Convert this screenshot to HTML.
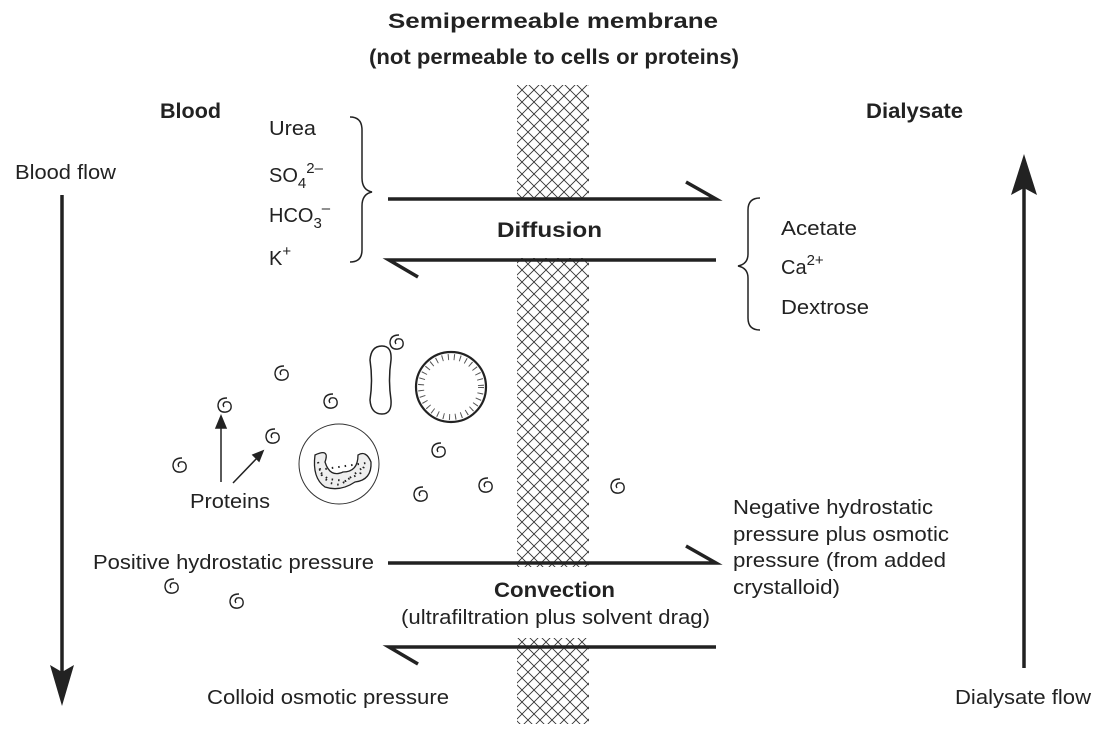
<!DOCTYPE html>
<html><head><meta charset="utf-8"><style>
html,body{margin:0;padding:0;background:#fff}
svg{display:block;font-family:"Liberation Sans",Arial,sans-serif;fill:#222}
text{font-size:20px;fill:#222}
.b{font-weight:bold;font-size:21px}
</style></head><body>
<svg width="1118" height="738" viewBox="0 0 1118 738" xmlns="http://www.w3.org/2000/svg">
<defs>
<pattern id="hatch" patternUnits="userSpaceOnUse" width="12" height="12">
<path d="M0,0 L12,12 M12,0 L0,12" stroke="#333" stroke-width="0.9" fill="none"/>
</pattern>
<path id="sp" d="M2,-7 Q-7,-7 -7,1 Q-6,8 1,7 Q7,6 6,0 Q5,-4 0,-3 Q-3,-1 -1,2" fill="none" stroke="#222" stroke-width="1.4"/>
</defs>
<g>
<rect x="517" y="85" width="72" height="115" fill="url(#hatch)"/>
<rect x="517" y="258" width="72" height="309" fill="url(#hatch)"/>
<rect x="517" y="638" width="72" height="86" fill="url(#hatch)"/>
</g>
<text class="b" x="388" y="28" textLength="330" lengthAdjust="spacingAndGlyphs">Semipermeable membrane</text>
<text class="b" x="369" y="64" textLength="370" lengthAdjust="spacingAndGlyphs">(not permeable to cells or proteins)</text>
<text class="b" x="160" y="118" textLength="61" lengthAdjust="spacingAndGlyphs">Blood</text>
<text class="b" x="866" y="118" textLength="97" lengthAdjust="spacingAndGlyphs">Dialysate</text>
<text x="15" y="179" textLength="101" lengthAdjust="spacingAndGlyphs">Blood flow</text>
<g>
<line x1="62" y1="195" x2="62" y2="680" stroke="#222" stroke-width="3.5"/>
<path d="M50,665 L62,706 L74,665 L62,672 Z" fill="#222"/>
</g>
<g>
<line x1="1024" y1="668" x2="1024" y2="180" stroke="#222" stroke-width="3.5"/>
<path d="M1011,195 L1024,154 L1037,195 L1024,188 Z" fill="#222"/>
</g>
<text x="955" y="704" textLength="136" lengthAdjust="spacingAndGlyphs">Dialysate flow</text>
<g>
<text x="269" y="135" textLength="47" lengthAdjust="spacingAndGlyphs">Urea</text>
<text x="269" y="182">SO<tspan font-size="15" dy="6">4</tspan><tspan font-size="15" dy="-15">2–</tspan></text>
<text x="269" y="222">HCO<tspan font-size="15" dy="6">3</tspan><tspan font-size="15" dy="-15">–</tspan></text>
<text x="269" y="265">K<tspan font-size="15" dy="-9">+</tspan></text>
</g>
<path d="M350,117 Q362,117 362,130 L362,178 Q362,190 372,192 Q362,194 362,206 L362,250 Q362,262 350,262" fill="none" stroke="#222" stroke-width="1.5"/>
<g>
<text x="781" y="235" textLength="76" lengthAdjust="spacingAndGlyphs">Acetate</text>
<text x="781" y="274">Ca<tspan font-size="15" dy="-9">2+</tspan></text>
<text x="781" y="314" textLength="88" lengthAdjust="spacingAndGlyphs">Dextrose</text>
</g>
<path d="M760,198 Q748,198 748,210 L748,254 Q748,264 738,266 Q748,268 748,278 L748,318 Q748,330 760,330" fill="none" stroke="#222" stroke-width="1.5"/>
<g stroke="#222" stroke-width="3.5" fill="none">
<path d="M388,199 L716,199 L686,182"/>
<path d="M716,260 L389,260 L418,277"/>
</g>
<text class="b" x="497" y="237" textLength="105" lengthAdjust="spacingAndGlyphs">Diffusion</text>
<g stroke="#222" stroke-width="3.5" fill="none">
<path d="M388,563 L716,563 L686,546"/>
<path d="M716,647 L389,647 L418,664"/>
</g>
<text class="b" x="494" y="597" textLength="121" lengthAdjust="spacingAndGlyphs">Convection</text>
<text x="401" y="624" textLength="309" lengthAdjust="spacingAndGlyphs">(ultrafiltration plus solvent drag)</text>
<text x="93" y="569" textLength="281" lengthAdjust="spacingAndGlyphs">Positive hydrostatic pressure</text>
<text x="207" y="704" textLength="242" lengthAdjust="spacingAndGlyphs">Colloid osmotic pressure</text>
<g>
<text x="733" y="514" textLength="200" lengthAdjust="spacingAndGlyphs">Negative hydrostatic</text>
<text x="733" y="541" textLength="216" lengthAdjust="spacingAndGlyphs">pressure plus osmotic</text>
<text x="733" y="567" textLength="213" lengthAdjust="spacingAndGlyphs">pressure (from added</text>
<text x="733" y="594" textLength="107" lengthAdjust="spacingAndGlyphs">crystalloid)</text>
</g>
<text x="190" y="508" textLength="80" lengthAdjust="spacingAndGlyphs">Proteins</text>
<g stroke="#222" stroke-width="1.5" fill="#222">
<line x1="221" y1="482" x2="221" y2="425"/>
<path d="M216,428 L221,416 L226,428 Z"/>
<line x1="233" y1="483" x2="258" y2="457"/>
<path d="M253,455 L263,451 L259,461 Z"/>
</g>
<g>
<use href="#sp" x="180" y="465"/><use href="#sp" x="225" y="405"/><use href="#sp" x="273" y="436"/>
<use href="#sp" x="282" y="373"/><use href="#sp" x="331" y="401"/><use href="#sp" x="397" y="342"/>
<use href="#sp" x="439" y="450"/><use href="#sp" x="421" y="494"/><use href="#sp" x="486" y="485"/>
<use href="#sp" x="618" y="486"/><use href="#sp" x="172" y="586"/><use href="#sp" x="237" y="601"/>
</g>
<path d="M382,346 Q392,346 391,360 Q388,380 391,400 Q392,414 382,414 Q371,414 370,400 Q373,380 370,360 Q371,346 382,346 Z" fill="none" stroke="#222" stroke-width="1.5"/>
<g>
<circle cx="451" cy="387" r="35" fill="none" stroke="#222" stroke-width="2.2"/>
<circle cx="451" cy="387" r="30" fill="none" stroke="#555" stroke-width="6" stroke-dasharray="1 5"/>
</g>
<g>
<circle cx="339" cy="464" r="40" fill="none" stroke="#333" stroke-width="1"/>
<path d="M315,455 Q312,478 325,487 Q340,492 355,482 Q372,480 371,462 Q366,450 358,455 Q358,472 343,472 Q330,478 325,462 Q330,448 315,455 Z" fill="#eee" stroke="#222" stroke-width="1.3"/>
<path d="M318,462 L322,476 L330,483 L340,485 L350,478 L360,474 L366,463 L318,470 L328,479 L346,481 L362,468" fill="none" stroke="#222" stroke-width="2" stroke-dasharray="1.5 5"/>
</g>
</svg>
</body></html>
